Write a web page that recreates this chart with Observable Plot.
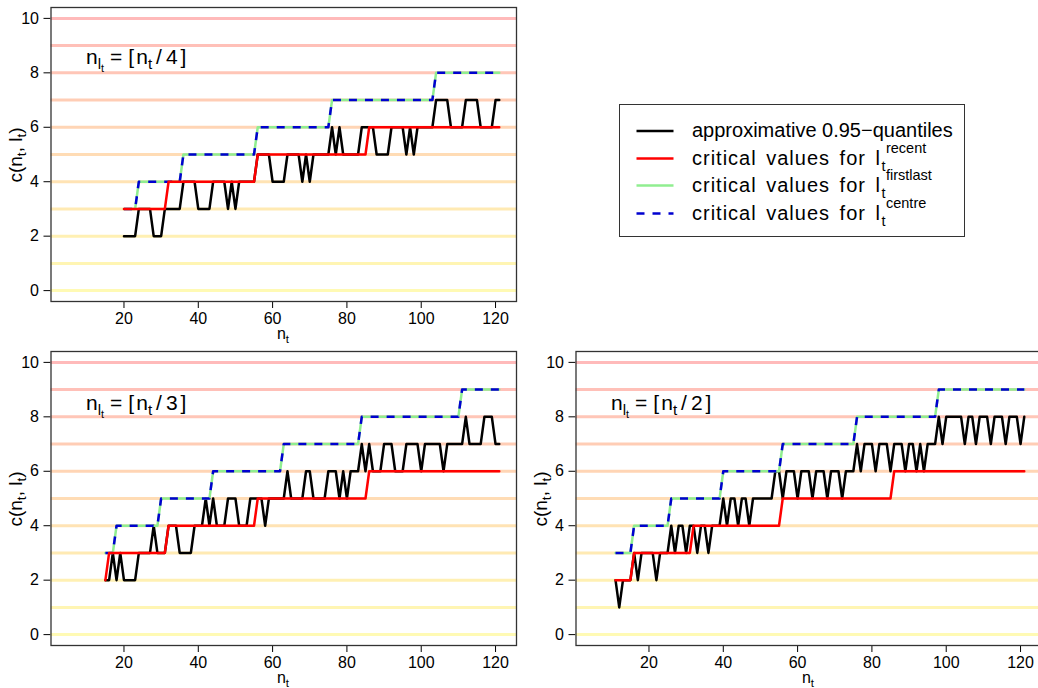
<!DOCTYPE html>
<html>
<head>
<meta charset="utf-8">
<script src="https://cdn.jsdelivr.net/npm/d3@7"></script>
<script src="https://cdn.jsdelivr.net/npm/@observablehq/plot@0.6"></script>
<style>
  body { margin: 0; background: #fff; font-family: "Liberation Sans", Arial, sans-serif; }
  #page { position: relative; width: 1038px; height: 688px; overflow: hidden; background: #fff; }
  .panel { position: absolute; }
  .lbl { position: absolute; white-space: nowrap; color: #000; line-height: 1; }
  .lbl sub { font-size: 72%; vertical-align: -0.32em; line-height: 0; }
  .crit { letter-spacing: 1px; word-spacing: 3px; }
  .script { line-height: 0.6; }
  .ann .op { margin: 0 6px; }
  .ann .lb { margin-right: 2px; }
  .ann .sl { margin: 0 4px; }
  .ann .rb { margin-left: 3px; }
  #legend { position: absolute; border: 1px solid #333; background: #fff; }
</style>
</head>
<body>
<div id="page"></div>
<script>
// Axis ticks and horizontal reference levels
const xTicks = [20, 40, 60, 80, 100, 120];
const yTicks = [0, 2, 4, 6, 8, 10];
const levels = [0, 1, 2, 3, 4, 5, 6, 7, 8, 9, 10];
const levelColors = ["#fffab4", "#fff5b3", "#fff0b3", "#ffeab3", "#ffe3b4", "#ffdcb5",
                     "#ffd5b5", "#ffcdb5", "#ffc6b7", "#ffc0b8", "#ffbaba"];

// Panel 1: n_l = [n/4], n = 20..121
const blackStart1 = 20;
const black1 = [2,2,2,2,3,3,3,3,2,2,
                2,3,3,3,3,3,4,4,4,4,
                3,3,3,3,4,4,4,4,3,4,
                3,4,4,4,4,4,5,5,5,5,
                4,4,4,4,5,5,5,5,4,5,
                4,5,5,5,5,5,6,5,6,5,
                5,5,5,5,6,6,6,6,5,5,
                5,5,6,6,6,6,5,6,5,6,
                6,6,6,6,7,7,7,7,6,6,
                6,6,7,7,7,7,6,6,6,6,
                7,7];
const recentN1 = [20, 31, 32, 55, 56, 85, 86, 121];
const recentV1 = [3, 3, 4, 4, 5, 5, 6, 6];
const firstlastN1 = [20, 23, 24, 35, 36, 55, 56, 75, 76, 103, 104, 121];
const firstlastV1 = [3, 3, 4, 4, 5, 5, 6, 6, 7, 7, 8, 8];
const centreN1 = [20, 23, 24, 35, 36, 55, 56, 75, 76, 103, 104, 121];
const centreV1 = [3, 3, 4, 4, 5, 5, 6, 6, 7, 7, 8, 8];

// Panel 2: n_l = [n/3], n = 15..121
const blackStart2 = 15;
const black2 = [2,2,3,2,3,2,2,2,2,3,
                3,3,3,4,3,3,3,4,4,4,
                3,3,3,3,4,4,4,5,4,5,
                4,4,4,5,5,5,4,4,4,5,
                5,5,5,4,5,5,5,5,5,6,
                5,5,5,5,6,6,5,5,5,5,
                6,6,6,5,6,5,6,6,6,7,
                6,7,6,6,6,7,7,7,6,6,
                6,7,7,7,7,6,7,7,7,7,
                7,6,7,7,7,7,7,8,7,7,
                7,7,8,8,8,7,7];
const recentN2 = [15, 16, 31, 32, 55, 56, 85, 86, 121];
const recentV2 = [2, 3, 3, 4, 4, 5, 5, 6, 6];
const firstlastN2 = [15, 17, 18, 29, 30, 43, 44, 62, 63, 83, 84, 110, 111, 121];
const firstlastV2 = [3, 3, 4, 4, 5, 5, 6, 6, 7, 7, 8, 8, 9, 9];
const centreN2 = [15, 17, 18, 29, 30, 43, 44, 62, 63, 83, 84, 110, 111, 121];
const centreV2 = [3, 3, 4, 4, 5, 5, 6, 6, 7, 7, 8, 8, 9, 9];

// Panel 3: n_l = [n/2], n = 11..121
const blackStart3 = 11;
const black3 = [2,1,2,2,2,3,2,3,3,3,
                3,2,3,3,3,4,3,4,4,3,
                4,4,3,4,4,3,4,4,4,5,
                4,5,5,4,5,5,4,5,5,5,
                5,5,5,6,6,5,6,6,6,5,
                6,6,6,5,6,6,6,5,6,6,
                6,5,6,6,6,7,6,7,7,7,
                6,7,7,7,6,7,7,7,6,7,
                7,6,7,6,7,7,7,8,7,8,
                8,8,8,8,7,8,8,7,8,8,
                8,7,8,8,8,7,8,8,8,7,
                8];
const recentN3 = [11, 15, 16, 31, 32, 55, 56, 85, 86, 121];
const recentV3 = [2, 2, 3, 3, 4, 4, 5, 5, 6, 6];
const firstlastN3 = [11, 15, 16, 25, 26, 39, 40, 55, 56, 75, 76, 97, 98, 121];
const firstlastV3 = [3, 3, 4, 4, 5, 5, 6, 6, 7, 7, 8, 8, 9, 9];
const centreN3 = [11, 15, 16, 25, 26, 39, 40, 55, 56, 75, 76, 97, 98, 121];
const centreV3 = [3, 3, 4, 4, 5, 5, 6, 6, 7, 7, 8, 8, 9, 9];

const page = document.getElementById("page");
const FONT = '"Liberation Sans", Arial, sans-serif';

const pts = (ns, vs) => ns.map((n, i) => ({n, v: vs[i]}));
const seq = (start, vs) => vs.map((v, i) => ({n: start + i, v}));

function panel(left, top, black, recent, firstlast, centre) {
  const svg = Plot.plot({
    width: 540,
    height: 344,
    marginLeft: 50.5,
    marginRight: 24,
    marginTop: 7,
    marginBottom: 43,
    style: {fontSize: "16px", fontFamily: FONT, background: "transparent", color: "#000"},
    x: {domain: [0.36, 125.64], ticks: xTicks, tickSize: 7, tickPadding: 4, label: null},
    y: {domain: [-0.4, 10.4], ticks: yTicks, tickSize: 7, tickPadding: 5, label: null},
    marks: [
      Plot.ruleY(levels, {y: d => d, stroke: (d, i) => levelColors[i], strokeWidth: 3}),
      Plot.line(black, {x: "n", y: "v", stroke: "black", strokeWidth: 2.5}),
      Plot.line(firstlast, {x: "n", y: "v", stroke: "#90ee90", strokeWidth: 2.5}),
      Plot.line(centre, {x: "n", y: "v", stroke: "#0000d0", strokeWidth: 2.5,
                         strokeDasharray: "8,8", strokeLinecap: "butt"}),
      Plot.line(recent, {x: "n", y: "v", stroke: "red", strokeWidth: 2.5}),
      Plot.frame({stroke: "#333", strokeWidth: 1.3})
    ]
  });
  svg.classList.add("panel");
  svg.style.left = left + "px";
  svg.style.top = top + "px";
  page.appendChild(svg);
}

function label(html, x, y, size, rotate) {
  const d = document.createElement("div");
  d.className = "lbl";
  d.innerHTML = html;
  d.style.fontSize = size + "px";
  d.style.left = x + "px";
  d.style.top = y + "px";
  d.style.transform = rotate ? "translate(-50%,-50%) rotate(-90deg)" : "translate(-50%,-50%)";
  page.appendChild(d);
  return d;
}

function note(html, x, y, size, cls) {
  const d = document.createElement("div");
  d.className = "lbl" + (cls ? " " + cls : "");
  d.innerHTML = html;
  d.style.fontSize = size + "px";
  d.style.left = x + "px";
  d.style.top = y + "px";
  page.appendChild(d);
  return d;
}

panel(0, 0, seq(blackStart1, black1), pts(recentN1, recentV1), pts(firstlastN1, firstlastV1), pts(centreN1, centreV1));
panel(0, 344, seq(blackStart2, black2), pts(recentN2, recentV2), pts(firstlastN2, firstlastV2), pts(centreN2, centreV2));
panel(525, 344, seq(blackStart3, black3), pts(recentN3, recentV3), pts(firstlastN3, firstlastV3), pts(centreN3, centreV3));

// Axis titles
const yTitle = "c(n<sub>t</sub>, l<sub>t</sub>)";
const xTitle = "n<sub>t</sub>";
label(yTitle, 15, 155, 19, true);
label(yTitle, 15, 499, 19, true);
label(yTitle, 540, 499, 19, true);
label(xTitle, 283, 334, 16);
label(xTitle, 283, 678, 16);
label(xTitle, 808, 678, 16);

// Panel annotations
const ann = d => 'n<sub>l<sub>t</sub></sub><span class="op">=</span><span class="lb">[</span>n<sub>t</sub>' +
                 '<span class="sl">/</span>' + d + '<span class="rb">]</span>';
note(ann(4), 86, 46, 21, "ann");
note(ann(3), 86, 392, 21, "ann");
note(ann(2), 611, 392, 21, "ann");

// Legend
const legendItems = [
  {text: "approximative 0.95\u2212quantiles", sup: null, color: "black", dash: null},
  {text: "critical values for l", sup: "recent", color: "red", dash: null},
  {text: "critical values for l", sup: "firstlast", color: "#90ee90", dash: null},
  {text: "critical values for l", sup: "centre", color: "#0000d0", dash: "8,8"}
];
const legendRows = [131, 158.5, 185.5, 213.5];
const lg = document.createElement("div");
lg.id = "legend";
lg.style.left = "619px";
lg.style.top = "104px";
lg.style.width = "344px";
lg.style.height = "131px";
page.appendChild(lg);

const sw = d3.select(page).append("svg")
  .attr("width", 1038).attr("height", 688)
  .style("position", "absolute").style("left", "0px").style("top", "0px")
  .style("pointer-events", "none");

const MAIN = 20, SCRIPT = 14.5;
legendItems.forEach((it, i) => {
  const y = legendRows[i];
  sw.append("line")
    .attr("x1", 636.5).attr("x2", 673.5)
    .attr("y1", y).attr("y2", y)
    .attr("stroke", it.color).attr("stroke-width", 2.5)
    .attr("stroke-dasharray", it.dash);
  const main = note(it.text, 692, y - 11, MAIN, it.sup ? "crit" : null);
  if (it.sup) {
    // baseline of the row text; subscript t right after "l", superscript just past it
    const base = y - 11 + 0.8465 * MAIN;
    const xr = main.getBoundingClientRect().right - page.getBoundingClientRect().left;
    const off = (0.6 - 1.117) / 2 * SCRIPT + 0.905 * SCRIPT;
    const t = note("t", xr + 0.5, base + 7 - off, SCRIPT, "script");
    const tr = t.getBoundingClientRect().right - page.getBoundingClientRect().left;
    note(it.sup, tr + 0.5, base - 11.5 - off, SCRIPT, "script");
  }
});
</script>
</body>
</html>
